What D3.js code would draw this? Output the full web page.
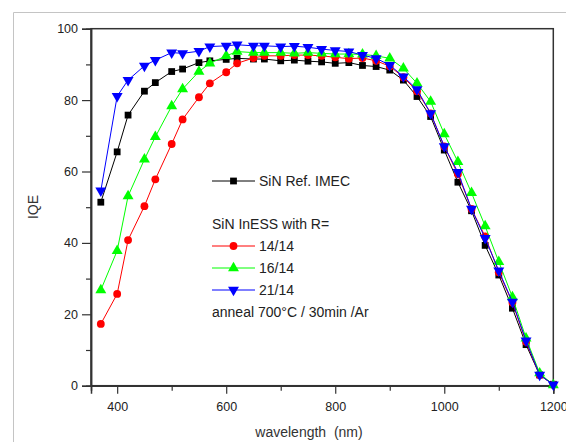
<!DOCTYPE html>
<html>
<head>
<meta charset="utf-8">
<script src="https://cdn.jsdelivr.net/npm/d3@7"></script>
<style>
  body { margin: 0; background: #fff; }
  text { font-family: "Liberation Sans", Arial, sans-serif; }
</style>
</head>
<body>
<div id="chart"></div>
<script>
const width = 566;
const height = 442;

// wavelength points (nm)
const wavelengths = [370, 400, 420, 450, 470, 500, 520, 550, 570, 600, 620, 650, 670, 700, 725, 750, 775, 800,
  825, 850, 875, 900, 925, 950, 975, 1000, 1025, 1050, 1075, 1100, 1125, 1150, 1175, 1200];

// IQE values
const refImec = [51.4, 65.5, 75.8, 82.5, 84.9, 88.0, 88.7, 90.5, 91.0, 91.4, 91.7, 91.5, 91.5, 91.0, 91.2, 90.9, 90.7, 90.3,
  90.5, 89.7, 89.4, 88.4, 85.6, 81.0, 75.4, 66.0, 57.0, 49.0, 39.3, 31.0, 21.7, 11.5, 3.0, 0.4];
const r14 = [17.3, 25.7, 40.8, 50.3, 57.8, 67.7, 74.6, 80.8, 84.7, 87.8, 90.3, 91.8, 92.4, 92.4, 92.6, 92.6, 92.4, 92.0,
  91.6, 91.8, 91.0, 89.5, 86.4, 82.5, 76.3, 67.0, 59.3, 49.5, 41.8, 31.8, 23.3, 12.3, 3.0, 0.3];
const r16 = [26.8, 37.8, 53.1, 63.4, 69.7, 78.3, 83.1, 88.0, 90.3, 92.4, 93.6, 93.3, 93.3, 93.3, 93.1, 93.3, 93.1, 92.9,
  92.9, 92.8, 92.4, 91.7, 88.9, 84.7, 79.6, 70.5, 62.7, 54.0, 44.7, 34.7, 24.8, 13.3, 3.5, 0.2];
const r21 = [54.6, 81.1, 85.6, 89.6, 91.2, 93.3, 93.1, 93.7, 95.0, 95.2, 95.5, 95.2, 95.2, 95.0, 95.1, 94.8, 94.3, 93.9,
  93.6, 92.6, 91.7, 89.8, 86.6, 83.0, 76.3, 67.0, 59.8, 49.5, 41.3, 32.2, 23.5, 12.6, 3.0, 0.3];

const seriesNames = ["SiN Ref. IMEC", "14/14", "16/14", "21/14"];
const seriesValues = [refImec, r14, r16, r21];
const seriesColors = ["#000000", "#ff0000", "#00ff00", "#0000ff"];
const seriesSymbols = ["square", "circle", "triangle", "down"];

const yMajor = [0, 20, 40, 60, 80, 100];
const yMinor = [10, 30, 50, 70, 90];
const xMajor = [400, 600, 800, 1000, 1200];
const xMinor = [500, 700, 900, 1100];

const margin = { left: 91, top: 28.7, right: 566 - 553.3, bottom: 442 - 385.7 };

const svg = d3.select("#chart").append("svg")
  .attr("width", width)
  .attr("height", height);

// light outer frame
svg.append("path")
  .attr("d", `M13.5,${height} V12.5 H${width}`)
  .attr("fill", "none")
  .attr("stroke", "#c4c4c4");

const x = d3.scaleLinear().domain([352, 1200]).range([margin.left, width - margin.right]);
const y = d3.scaleLinear().domain([0, 100]).range([height - margin.bottom, margin.top]);

// plot box
svg.append("rect")
  .attr("x", x.range()[0]).attr("y", y.range()[1])
  .attr("width", x.range()[1] - x.range()[0])
  .attr("height", y.range()[0] - y.range()[1])
  .attr("fill", "none").attr("stroke", "#333").attr("stroke-width", 1.5);

// axes
function styleAxis(g) {
  g.select(".domain").attr("stroke", "#333").attr("stroke-width", 1.5);
  g.selectAll(".tick line").attr("stroke", "#333").attr("stroke-width", 1.2);
  g.selectAll(".tick text").attr("fill", "#222").style("font-size", "12.5px")
    .style("font-family", "'Liberation Sans', Arial, sans-serif");
}

svg.append("g")
  .attr("transform", `translate(0,${y(0)})`)
  .call(d3.axisBottom(x).tickValues(xMajor).tickSize(8).tickPadding(8).tickFormat(d3.format("d")))
  .call(styleAxis);
svg.append("g")
  .attr("transform", `translate(0,${y(0)})`)
  .call(d3.axisBottom(x).tickValues(xMinor).tickSize(5).tickFormat(""))
  .call(styleAxis);

svg.append("g")
  .attr("transform", `translate(${x.range()[0]},0)`)
  .call(d3.axisLeft(y).tickValues(yMajor).tickSize(9).tickPadding(4))
  .call(styleAxis);
svg.append("g")
  .attr("transform", `translate(${x.range()[0]},0)`)
  .call(d3.axisLeft(y).tickValues(yMinor).tickSize(5).tickFormat(""))
  .call(styleAxis);

// axis titles
svg.append("text")
  .attr("transform", "translate(38,207) rotate(-90)")
  .attr("text-anchor", "middle")
  .attr("fill", "#333")
  .style("font-size", "14px")
  .text("IQE");

svg.append("text")
  .attr("x", 309).attr("y", 437)
  .attr("text-anchor", "middle")
  .attr("fill", "#333")
  .style("font-size", "14px")
  .attr("xml:space", "preserve")
  .style("white-space", "pre")
  .text("wavelength  (nm)");

function symbolPath(kind) {
  if (kind === "square") return d3.symbol(d3.symbolSquare, 46)();
  if (kind === "circle") return d3.symbol(d3.symbolCircle, 48)();
  return d3.symbol(d3.symbolTriangle, 52)();
}

const line = d3.line().x(d => x(d[0])).y(d => y(d[1]));

// series
seriesValues.forEach((vals, i) => {
  const pts = wavelengths.map((w, j) => [w, vals[j]]);
  const g = svg.append("g");
  g.append("path")
    .attr("d", line(pts))
    .attr("fill", "none")
    .attr("stroke", seriesColors[i])
    .attr("stroke-width", 1);
  g.selectAll("path.pt")
    .data(pts)
    .join("path")
    .attr("class", "pt")
    .attr("d", symbolPath(seriesSymbols[i]))
    .attr("transform", d => `translate(${x(d[0])},${y(d[1])})` + (seriesSymbols[i] === "down" ? " rotate(180)" : ""))
    .attr("fill", seriesColors[i]);
});

// legend
const legendRows = [
  { kind: "series", i: 0, y: 181 },
  { kind: "text", label: "SiN InESS with R=", y: 224 },
  { kind: "series", i: 1, y: 246 },
  { kind: "series", i: 2, y: 268 },
  { kind: "series", i: 3, y: 290 },
  { kind: "text", label: "anneal 700°C / 30min /Ar", y: 312 }
];

const legend = svg.append("g");
legendRows.forEach(row => {
  if (row.kind === "series") {
    legend.append("line")
      .attr("x1", 212).attr("x2", 255)
      .attr("y1", row.y).attr("y2", row.y)
      .attr("stroke", seriesColors[row.i]).attr("stroke-width", 1);
    legend.append("path")
      .attr("d", symbolPath(seriesSymbols[row.i]))
      .attr("transform", `translate(233.5,${row.y})` + (seriesSymbols[row.i] === "down" ? " rotate(180)" : ""))
      .attr("fill", seriesColors[row.i]);
    legend.append("text")
      .attr("x", 259).attr("y", row.y + 5)
      .attr("fill", "#222")
      .style("font-size", "14px")
      .text(seriesNames[row.i]);
  } else {
    legend.append("text")
      .attr("x", 212).attr("y", row.y + 5)
      .attr("fill", "#222")
      .style("font-size", "14px")
      .text(row.label);
  }
});
</script>
</body>
</html>
